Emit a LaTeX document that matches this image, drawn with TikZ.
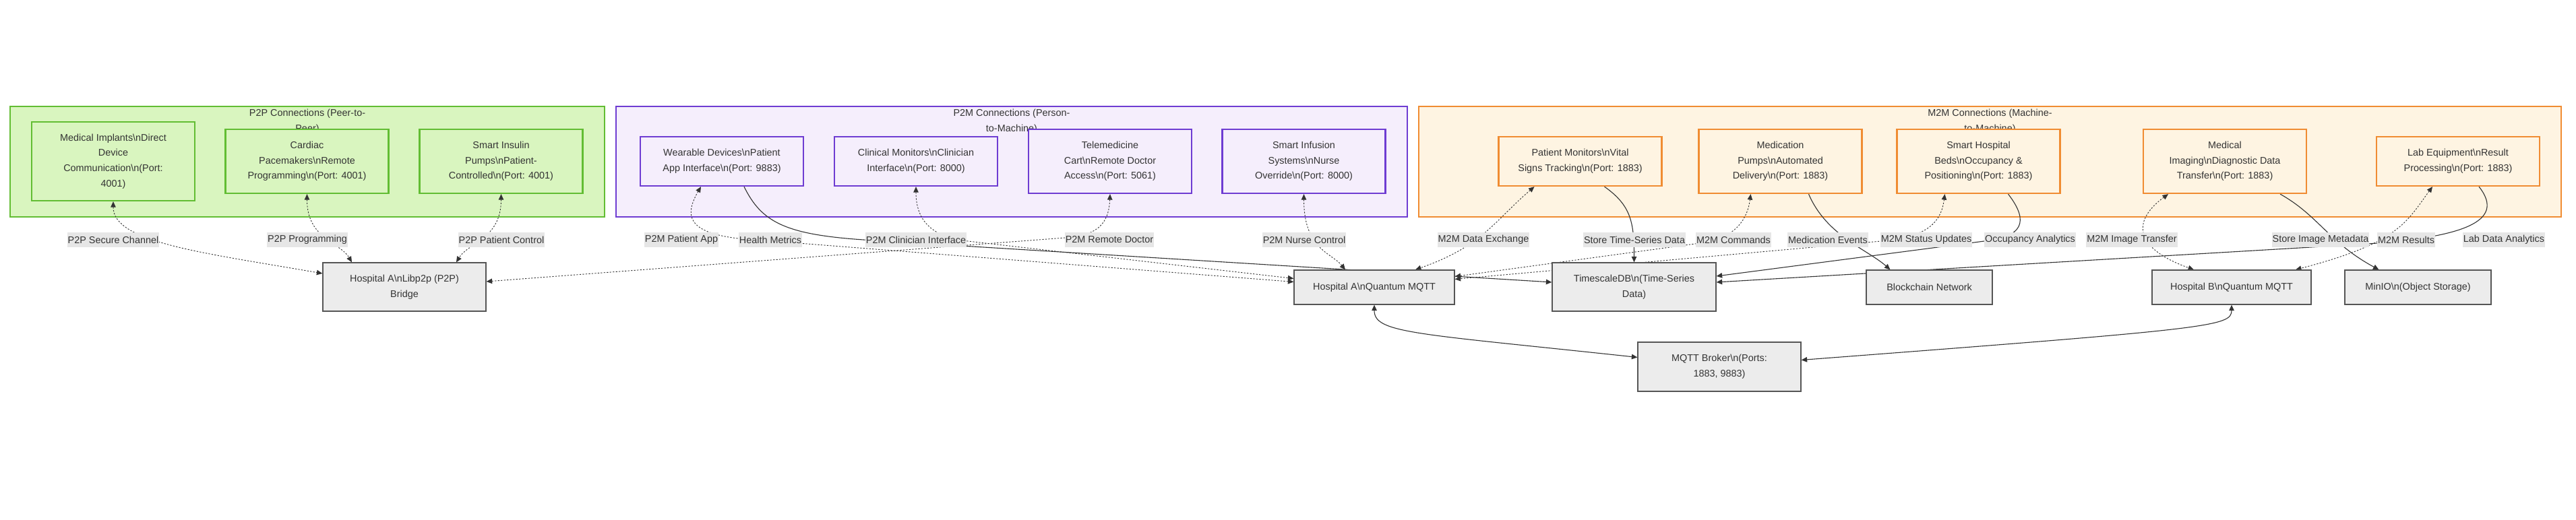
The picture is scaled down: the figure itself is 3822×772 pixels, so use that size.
\documentclass[tikz,border=0pt]{standalone}
\usepackage{fontspec}
\setmainfont{Liberation Sans}
\usepackage{xcolor}
\usepackage{tikz}
\usetikzlibrary{positioning,arrows.meta,backgrounds,calc}
\definecolor{PeerFill}{HTML}{D9F5BF}
\definecolor{PeerLine}{HTML}{62BD33}
\definecolor{PersonFill}{HTML}{F5EEFC}
\definecolor{PersonLine}{HTML}{6E3CD2}
\definecolor{MachFill}{HTML}{FEF4E2}
\definecolor{MachLine}{HTML}{F08C32}
\definecolor{HubFill}{HTML}{ECECEC}
\definecolor{HubLine}{HTML}{555555}
\definecolor{LinkDark}{HTML}{333333}
\definecolor{LabelGray}{HTML}{E6E6E6}
\definecolor{TextDark}{HTML}{333333}
\pgfdeclarelayer{links}
\pgfsetlayers{background,links,main}
\newcommand{\bsn}{\textbackslash n}

\begin{document}
\begin{tikzpicture}[
      x=0.2mm, y=-0.2mm,
      >={Triangle[length=1.7mm,width=1.5mm]},
      every node/.style={font=\fontsize{8.2}{12.9}\selectfont, text=TextDark},
      CL/.style={line width=0.4mm, minimum height=32.8mm, inner sep=0pt},
      CT/.style={align=center, inner sep=0pt},
      PP/.style={draw=PeerLine, fill=PeerFill, line width=0.45mm,
          minimum width=48.4mm, minimum height=19mm, align=center, inner sep=0pt},
      PM/.style={draw=PersonLine, fill=PersonFill, line width=0.45mm,
          minimum width=48.4mm, minimum height=19mm, align=center, inner sep=0pt},
      MM/.style={draw=MachLine, fill=MachFill, line width=0.45mm,
          minimum width=48.4mm, minimum height=19mm, align=center, inner sep=0pt},
      HB/.style={draw=HubLine, fill=HubFill, line width=0.25mm,
          minimum height=10.2mm, align=center, inner sep=0pt},
      lbl/.style={fill=LabelGray, minimum height=4.4mm, inner xsep=0.2mm, inner ysep=0pt},
      dl/.style={<->, LinkDark, line width=0.18mm, dash pattern=on 0.45mm off 0.45mm},
      sl/.style={->, LinkDark, line width=0.22mm},
    ]
    \useasboundingbox (0,0) rectangle (3822,772);

    % P2P
    \node[PP, minimum height=23.4mm] (implant) at (168,239.5)
    {Medical Implants\bsn Direct\\Device\\Communication\bsn(Port:\\4001)};
    \node[PP] (cardiac) at (455.5,239.5) {Cardiac\\Pacemakers\bsn Remote\\Programming\bsn(Port: 4001)};
    \node[PP] (insulin) at (743.5,239.5) {Smart Insulin\\Pumps\bsn Patient-\\Controlled\bsn(Port: 4001)};

    % P2M
    \node[PM, minimum height=14.6mm] (wear) at (1071,239.5) {Wearable Devices\bsn Patient\\App Interface\bsn(Port: 9883)};
    \node[PM, minimum height=14.6mm] (clin) at (1359,239.5) {Clinical Monitors\bsn Clinician\\Interface\bsn(Port: 8000)};
    \node[PM] (tele) at (1647,239.5) {Telemedicine\\Cart\bsn Remote Doctor\\Access\bsn(Port: 5061)};
    \node[PM] (infu) at (1934.5,239.5) {Smart Infusion\\Systems\bsn Nurse\\Override\bsn(Port: 8000)};

    % M2M
    \node[MM, minimum height=14.6mm] (patmon) at (2344.5,239.5) {Patient Monitors\bsn Vital\\Signs Tracking\bsn(Port: 1883)};
    \node[MM] (medpump) at (2641.5,239.5) {Medication\\Pumps\bsn Automated\\Delivery\bsn(Port: 1883)};
    \node[MM] (bed) at (2935.5,239.5) {Smart Hospital\\Beds\bsn Occupancy \&\\Positioning\bsn(Port: 1883)};
    \node[MM] (imaging) at (3301,239.5) {Medical\\Imaging\bsn Diagnostic Data\\Transfer\bsn(Port: 1883)};
    \node[MM, minimum height=14.6mm] (lab) at (3647,239.5) {Lab Equipment\bsn Result\\Processing\bsn(Port: 1883)};

    % Hospital side
    \node[HB, minimum width=48.4mm, minimum height=14.4mm] (bridge) at (600,426) {Hospital A\bsn Libp2p (P2P)\\Bridge};
    \node[HB, minimum width=47.6mm] (mqttA) at (2039,426.5) {Hospital A\bsn Quantum MQTT};
    \node[HB, minimum width=48.6mm, minimum height=14.4mm] (tsdb) at (2424.5,426) {TimescaleDB\bsn(Time-Series\\Data)};
    \node[HB, minimum width=37.4mm] (chain) at (2862.5,426.5) {Blockchain Network};
    \node[HB, minimum width=47.2mm] (mqttB) at (3311,426.5) {Hospital B\bsn Quantum MQTT};
    \node[HB, minimum width=43.4mm] (minio) at (3587.5,426.5) {MinIO\bsn(Object Storage)};
    \node[HB, minimum width=48.4mm, minimum height=14.6mm] (broker) at (2551,544.5) {MQTT Broker\bsn(Ports:\\1883, 9883)};

    % Groups
    \begin{scope}[on background layer]
      \node[CL, draw=PeerLine, fill=PeerFill, minimum width=176.4mm] (gPeer) at (456,240) {};
      \node[CT] (tPeer) at (456,180) {P2P Connections (Peer-to-\\Peer)};
      \node[CL, draw=PersonLine, fill=PersonFill, minimum width=234.8mm] (gPerson) at (1501,240) {};
      \node[CT] (tPerson) at (1501,180) {P2M Connections (Person-\\to-Machine)};
      \node[CL, draw=MachLine, fill=MachFill, minimum width=339mm] (gMach) at (2952.5,240) {};
      \node[CT] (tMach) at (2952.5,180) {M2M Connections (Machine-\\to-Machine)};
    \end{scope}

    % Links
    \begin{pgfonlayer}{links}
      \draw[dl] (implant.south) .. controls (168,360) and (300,375) .. ($(bridge.west)+(0,-20)$);
      \draw[dl] (cardiac.south) .. controls (455.5,355) and (505,360) .. ($(bridge.north)+(-78,0)$);
      \draw[dl] (insulin.south) .. controls (743.5,355) and (695,360) .. ($(bridge.north)+(77,0)$);

      \draw[dl] ($(wear.south)+(-31,0)$) .. controls (1015,320) and (1020,345) .. (1095,354)
      -- ($(mqttA.west)+(0,-8)$);
      \draw[sl] ($(wear.south)+(33,0)$) .. controls (1130,330) and (1165,348) .. (1281,356)
      -- ($(tsdb.west)+(0,-7)$);
      \draw[dl] (clin.south) .. controls (1359,330) and (1385,352) .. (1436,358)
      -- ($(mqttA.west)+(0,-13)$);
      \draw[dl] (tele.south) .. controls (1645,335) and (1625,350) .. (1580,353)
      -- ($(bridge.east)+(0,-8)$);
      \draw[dl] (infu.south) .. controls (1934.5,370) and (1975,375) .. ($(mqttA.north)+(-43,0)$);

      \draw[dl] ($(patmon.south)+(-68,0)$) .. controls (2215,330) and (2200,365) .. ($(mqttA.north)+(61,0)$);
      \draw[sl] ($(patmon.south)+(36,0)$) .. controls (2420,305) and (2424.5,330) .. (tsdb.north);
      \draw[dl] ($(medpump.south)+(-44,0)$) .. controls (2592,330) and (2570,355) .. (2522,361)
      -- ($(mqttA.east)+(0,-16)$);
      \draw[sl] ($(medpump.south)+(42,0)$) .. controls (2710,350) and (2770,370) .. ($(chain.north)+(-58,0)$);
      \draw[dl] ($(bed.south)+(-50,0)$) .. controls (2880,330) and (2860,352) .. (2791,358)
      -- ($(mqttA.east)+(0,-12)$);
      \draw[sl] ($(bed.south)+(44,0)$) .. controls (3012,330) and (3000,352) .. (2944,358)
      -- ($(tsdb.east)+(0,-16)$);
      \draw[dl] ($(imaging.south)+(-84,0)$) .. controls (3160,330) and (3170,370) .. ($(mqttB.north)+(-56,0)$);
      \draw[sl] ($(imaging.south)+(82,0)$) .. controls (3440,320) and (3455,360) .. ($(minio.north)+(-58,0)$);
      \draw[dl] ($(lab.south)+(-38,0)$) .. controls (3570,330) and (3560,360) .. ($(mqttB.north)+(95,0)$);
      \draw[sl] ($(lab.south)+(31,0)$) .. controls (3720,330) and (3650,352) .. (3514,362)
      -- ($(tsdb.east)+(0,-7)$);

      \draw[sl, <->] (mqttA.south) .. controls (2039,495) and (2100,495) .. ($(broker.west)+(0,-14)$);
      \draw[sl, <->] (mqttB.south) .. controls (3311,485) and (3280,488) .. ($(broker.east)+(0,-10)$);
    \end{pgfonlayer}

    % Link labels
    \node[lbl] (lSecure) at (168,356) {P2P Secure Channel};
    \node[lbl] (lProg) at (456,356) {P2P Programming};
    \node[lbl] (lPatCtl) at (744,356) {P2P Patient Control};
    \node[lbl] (lApp) at (1011,356) {P2M Patient App};
    \node[lbl] (lHealth) at (1143,356) {Health Metrics};
    \node[lbl] (lClin) at (1359,356) {P2M Clinician Interface};
    \node[lbl] (lDoc) at (1646,356) {P2M Remote Doctor};
    \node[lbl] (lNurse) at (1935,356) {P2M Nurse Control};
    \node[lbl] (lExch) at (2201,356) {M2M Data Exchange};
    \node[lbl] (lStoreTS) at (2425,356) {Store Time-Series Data};
    \node[lbl] (lCmd) at (2572,356) {M2M Commands};
    \node[lbl] (lMed) at (2712,356) {Medication Events};
    \node[lbl] (lStatus) at (2858,356) {M2M Status Updates};
    \node[lbl] (lOcc) at (3012,356) {Occupancy Analytics};
    \node[lbl] (lImg) at (3163,356) {M2M Image Transfer};
    \node[lbl] (lMeta) at (3443,356) {Store Image Metadata};
    \node[lbl] (lRes) at (3570,356) {M2M Results};
    \node[lbl] (lLab) at (3715,356) {Lab Data Analytics};
  \end{tikzpicture}
\end{document}
